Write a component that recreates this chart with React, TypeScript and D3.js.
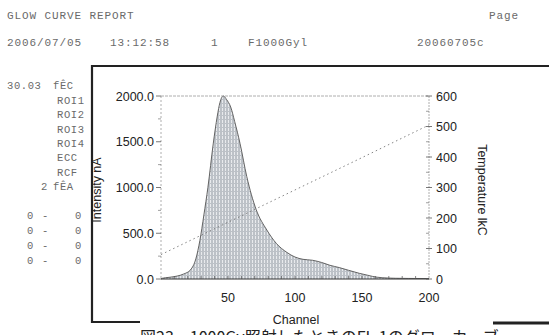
import React from "react";
import * as d3 from "d3";

const channels = [0, 1, 6, 12, 17, 22, 26, 29, 32, 35, 39, 42, 44, 46.5, 49, 52, 55, 59, 64, 71, 79, 86, 94, 100, 106, 113, 120, 126, 133, 140, 148, 154, 158, 165, 175, 185, 200];
const intensity = [0, 8, 18, 32, 55, 100, 220, 420, 700, 1000, 1480, 1780, 1930, 2000, 1960, 1880, 1720, 1480, 1120, 760, 535, 390, 290, 240, 215, 205, 180, 150, 125, 95, 62, 42, 28, 14, 8, 6, 5];
const tempChannels = [0, 50, 100, 150, 200];
const temperature = [80, 186, 292, 398, 505];
const xTicks = [50, 100, 150, 200];
const yLeftTicks = [0, 500, 1000, 1500, 2000];
const yRightTicks = [0, 100, 200, 300, 400, 500, 600];
const sideLabels = ["ROI1", "ROI2", "ROI3", "ROI4", "ECC", "RCF"];
const zeroRows = [0, 1, 2, 3];

export default function App() {
  const x = d3.scaleLinear().domain([0, 200]).range([161, 429]);
  const yL = d3.scaleLinear().domain([0, 2000]).range([279, 96]);
  const yR = d3.scaleLinear().domain([0, 600]).range([279, 96]);
  const pts = channels.map((c, i) => [c, intensity[i]] as [number, number]);
  const area = d3.area<[number, number]>().x(d => x(d[0])).y0(yL(0)).y1(d => yL(d[1])).curve(d3.curveMonotoneX);
  const line = d3.line<[number, number]>().x(d => x(d[0])).y(d => yL(d[1])).curve(d3.curveMonotoneX);
  const tLine = d3.line<number>().x((_, i) => x(tempChannels[i])).y(d => yR(d));
  const mono = "'Liberation Mono', 'DejaVu Sans Mono', monospace";
  const sans = "'Liberation Sans', Arial, sans-serif";
  const grey = "#6a6a6a";
  const minorX = d3.range(10, 200, 10);
  const minorL = d3.range(250, 2000, 500);
  const minorR = d3.range(50, 600, 100);
  return (
    <svg width={549} height={335} style={{ position: "absolute", left: 0, top: 0, background: "#fff" }}>
      <defs>
        <pattern id="hatch" width="3" height="4" patternUnits="userSpaceOnUse">
          <rect width="3" height="4" fill="#bcc1c7" />
          <rect x="0" width="1" height="3" fill="#e8eaed" />
        </pattern>
      </defs>
      <g fontFamily={mono} fontSize={11} fill={grey} letterSpacing={0.9}>
        <text x={7} y={19}>GLOW CURVE REPORT</text>
        <text x={489} y={19}>Page</text>
        <text x={7} y={46}>2006/07/05</text>
        <text x={110} y={46}>13:12:58</text>
        <text x={211} y={46}>1</text>
        <text x={248} y={46}>F1000Gyl</text>
        <text x={417} y={46}>20060705c</text>
      </g>
      <g fontFamily={mono} fontSize={10.5} fill={grey} letterSpacing={0.6}>
        <text x={7} y={89}>30.03</text>
        <text x={53} y={89}>fÊC</text>
        {sideLabels.map((s, i) => (
          <text key={s} x={57} y={104 + i * 14.3}>{s}</text>
        ))}
        <text x={41} y={190}>2</text>
        <text x={53} y={190}>fÊA</text>
        {zeroRows.map(r => (
          <g key={r}>
            <text x={27} y={219 + r * 15}>0</text>
            <text x={42} y={219 + r * 15}>-</text>
            <text x={75} y={219 + r * 15}>0</text>
          </g>
        ))}
      </g>
      {/* frame */}
      <line x1={92} y1={66} x2={549} y2={66} stroke="#222" strokeWidth={2.2} />
      <line x1={92} y1={65} x2={92} y2={323} stroke="#222" strokeWidth={2.2} />
      <line x1={91} y1={322} x2={140} y2={322} stroke="#222" strokeWidth={2} />
      <line x1={493} y1={323} x2={549} y2={323} stroke="#222" strokeWidth={3} />
      {/* area */}
      <path d={area(pts) ?? ""} fill="url(#hatch)" />
      <path d={line(pts) ?? ""} fill="none" stroke="#555" strokeWidth={0.9} />
      {/* temperature line */}
      <path d={tLine(temperature) ?? ""} fill="none" stroke="#666" strokeWidth={0.8} strokeDasharray="1.5,3" />
      {/* axes */}
      <line x1={161} y1={96} x2={429} y2={96} stroke="#999" strokeWidth={0.8} strokeDasharray="3,1" />
      <line x1={161} y1={96} x2={161} y2={279} stroke="#999" strokeWidth={0.8} strokeDasharray="2,2" />
      <line x1={429} y1={96} x2={429} y2={279} stroke="#999" strokeWidth={0.8} strokeDasharray="2,1" />
      <line x1={161} y1={279} x2={429} y2={279} stroke="#333" strokeWidth={1} />
      {minorX.map(c => (
        <line key={c} x1={x(c)} x2={x(c)} y1={279} y2={276} stroke="#555" strokeWidth={0.7} />
      ))}
      {yLeftTicks.map(v => (
        <line key={v} x1={156} x2={161} y1={yL(v)} y2={yL(v)} stroke="#555" strokeWidth={0.8} />
      ))}
      {minorL.map(v => (
        <line key={v} x1={158} x2={161} y1={yL(v)} y2={yL(v)} stroke="#777" strokeWidth={0.7} />
      ))}
      {yRightTicks.map(v => (
        <line key={v} x1={426} x2={432} y1={yR(v)} y2={yR(v)} stroke="#555" strokeWidth={0.8} />
      ))}
      {minorR.map(v => (
        <line key={v} x1={426} x2={429} y1={yR(v)} y2={yR(v)} stroke="#777" strokeWidth={0.7} />
      ))}
      <g fontFamily={sans} fontSize={12.5} fill="#222">
        {yLeftTicks.map(v => (
          <text key={v} x={154} y={yL(v) + 4.5} textAnchor="end">{v.toFixed(1)}</text>
        ))}
        {yRightTicks.map(v => (
          <text key={v} x={436} y={yR(v) + 4.5}>{v}</text>
        ))}
        {xTicks.map(v => (
          <text key={v} x={x(v)} y={302} textAnchor="middle">{v}</text>
        ))}
        <text x={296} y={324} textAnchor="middle">Channel</text>
        <text transform="translate(478,190) rotate(90)" textAnchor="middle">Temperature lkC</text>
        <text transform="translate(101,190) rotate(-90)" textAnchor="middle">Intensity nA</text>
      </g>
      <text x={140} y={343} fontFamily="'Noto Sans CJK JP', sans-serif" fontSize={16} fill="#222">図23　1000Gy照射したときのFL-1のグローカーブ</text>
    </svg>
  );
}
